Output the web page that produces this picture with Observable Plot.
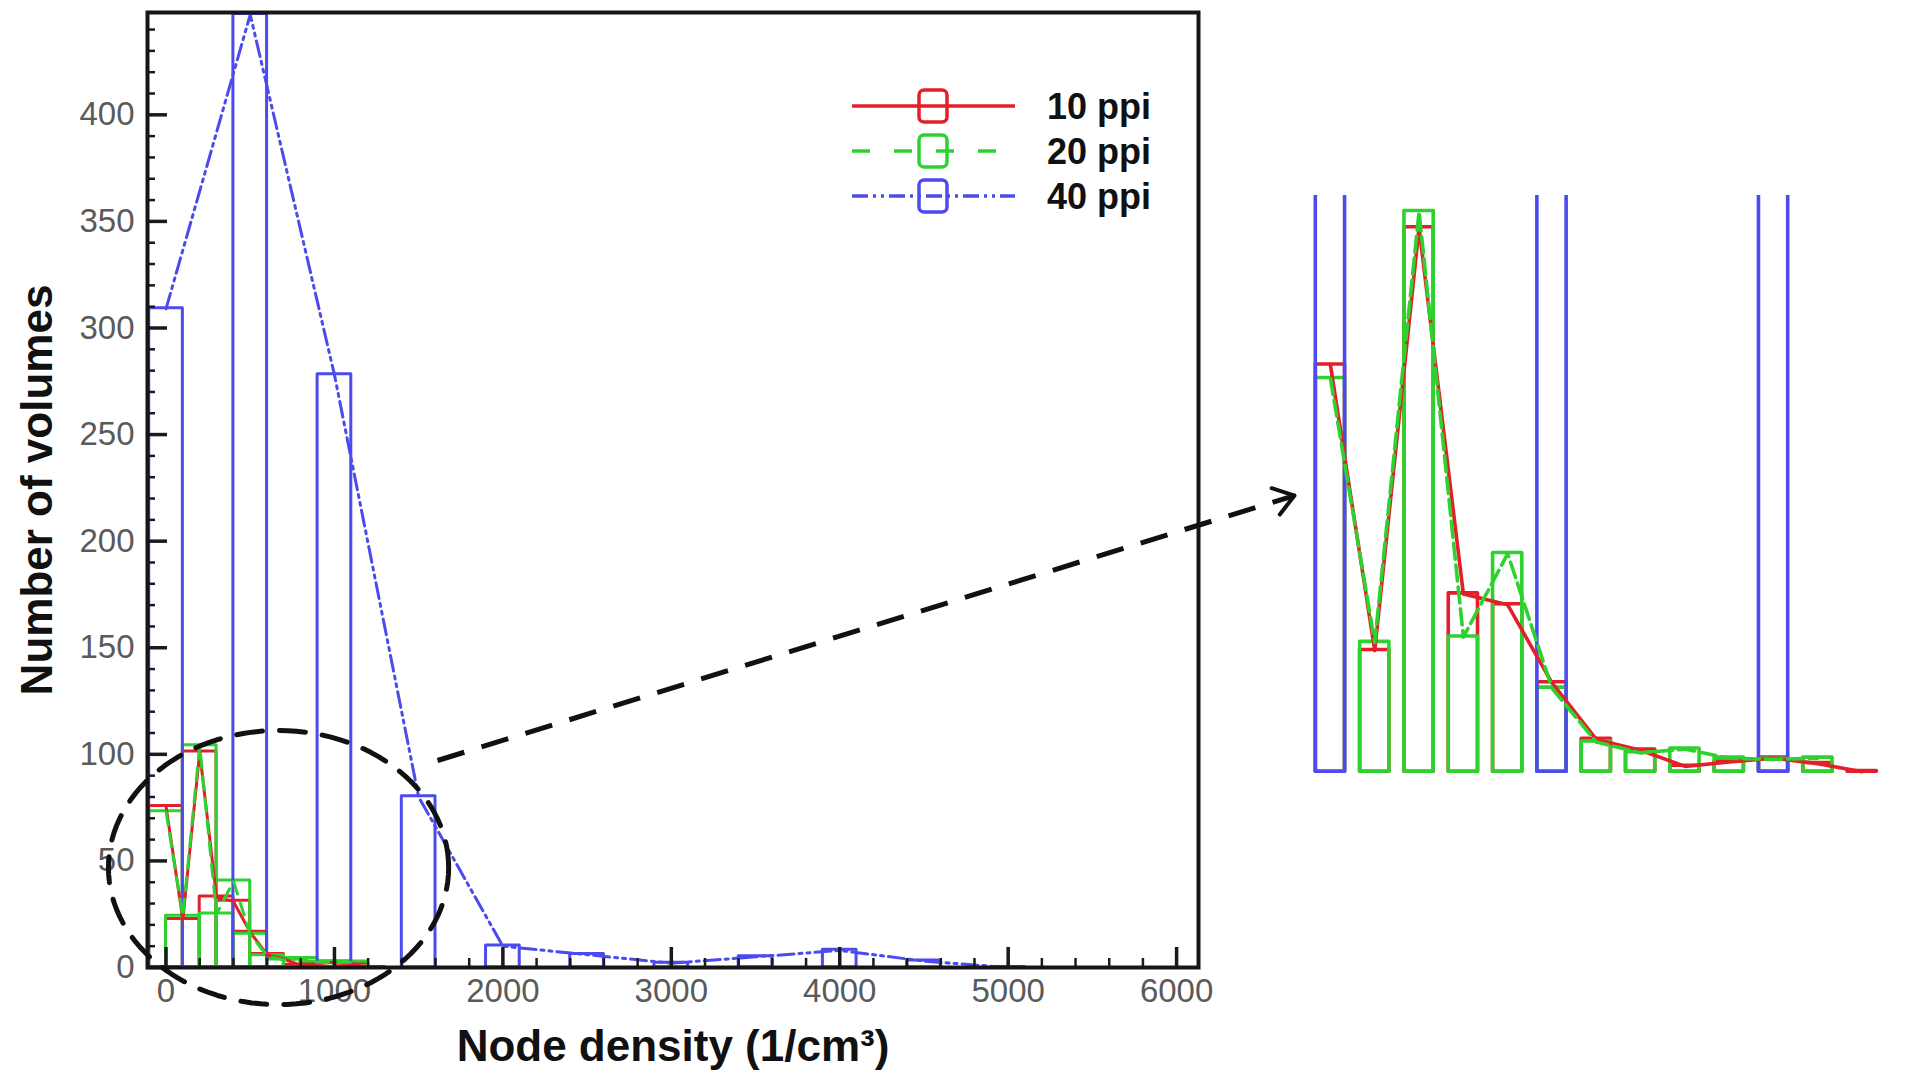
<!DOCTYPE html>
<html>
<head>
<meta charset="utf-8">
<script src="https://cdn.jsdelivr.net/npm/d3@7"></script>
<script src="https://cdn.jsdelivr.net/npm/@observablehq/plot@0.6"></script>
<style>
  html, body { margin: 0; padding: 0; background: #fff; overflow: hidden; }
  #wrap { position: relative; width: 1913px; height: 1077px; overflow: hidden; }
  #main { position: absolute; left: 0; top: 0; }
  #inset { position: absolute; left: 1310px; top: 195px; }
  #legend { position: absolute; left: 0; top: 0; pointer-events: none; }
</style>
</head>
<body>
<div id="wrap">
  <div id="main"></div>
  <div id="inset"></div>
  <svg id="legend" width="1913" height="260"></svg>
</div>
<script>
// ---------------- data ----------------
const seriesNames = ["10 ppi", "20 ppi", "40 ppi"];

const ppi10Density = [0, 100, 200, 300, 400, 500, 600, 700, 800, 900, 1000, 1100, 1200];
const ppi10Volumes = [75.5, 22.5, 101, 33, 31, 16.5, 6, 4, 1, 1.8, 2.5, 1.5, 0];

const ppi20Density = [0, 100, 200, 300, 400, 500, 600, 700, 800, 900, 1000, 1100];
const ppi20Volumes = [73, 24, 104, 25, 40.5, 15.5, 5.5, 3.5, 4.2, 2.5, 2.3, 2.5];

const ppi40Density = [0, 500, 1000, 1500, 2000, 2500, 3000, 3500, 4000, 4500, 5000];
const ppi40Volumes = [309, 447, 278, 80, 10, 6, 2, 5, 8, 3, 0];

const xTickLabels = [0, 1000, 2000, 3000, 4000, 5000, 6000];
const yTickLabels = [0, 50, 100, 150, 200, 250, 300, 350, 400];

const xTitle = "Node density (1/cm³)";
const yTitle = "Number of volumes";

// ---------------- styles ----------------
const colors = ["#e2202a", "#2ed22e", "#4b4bee"];
const dashes = [null, "13,9", "16,5,3,5,3,5"];
const insetDashes = [null, "16,6", "16,5,3,5,3,5"];

const toRows = (xs, ys) => xs.map((x, i) => ({x, y: ys[i]}));
const datasets = [
  toRows(ppi10Density, ppi10Volumes),
  toRows(ppi20Density, ppi20Volumes),
  toRows(ppi40Density, ppi40Volumes)
];

function seriesMarks(half, sw, dash) {
  const marks = [];
  datasets.forEach((d, i) => marks.push(Plot.rect(d, {
    x1: r => r.x - half, x2: r => r.x + half, y1: 0, y2: "y", insetTop: -0.6,
    fill: "none", stroke: colors[i], strokeWidth: sw, strokeLinejoin: "round", clip: true
  })));
  datasets.forEach((d, i) => marks.push(Plot.line(d, {
    x: "x", y: "y", stroke: colors[i], strokeWidth: sw,
    strokeDasharray: dash[i], strokeLinejoin: "round", clip: true
  })));
  return marks;
}

// ---------------- main chart ----------------
const W = 1913, H = 1077, mL = 147, mR = 715, mT = 12, mB = 110;
const frameW = W - mL - mR, frameH = H - mT - mB;
const xDomain = [-110, 6130], yDomain = [0, 448];
const xMinor = d3.range(200, 6001, 200).filter(v => v % 1000 !== 0);
const yMinor = d3.range(10, 448, 10).filter(v => v % 50 !== 0);

// annotation: dashed ellipse around the low-density region and arrow to the zoom
const ellipse = {cx: 668, cy: 46.9, rx: 1010, ry: 64.3};
const ellipsePts = d3.range(0, 121).map(k => {
  const t = k / 120 * 2 * Math.PI;
  return {x: ellipse.cx + ellipse.rx * Math.cos(t), y: ellipse.cy + ellipse.ry * Math.sin(t)};
});
const arrow = {x1: 1612, y1: 97.1, x2: 6700, y2: 221.4};
const sx = Plot.scale({x: {domain: xDomain, range: [mL, W - mR]}});
const sy = Plot.scale({y: {domain: yDomain, range: [H - mB, mT]}});
const arrowPx = Math.hypot(sx.apply(arrow.x2) - sx.apply(arrow.x1), sy.apply(arrow.y2) - sy.apply(arrow.y1));

const main = Plot.plot({
  width: W, height: H,
  marginLeft: mL, marginRight: mR, marginTop: mT, marginBottom: mB,
  x: {domain: xDomain},
  y: {domain: yDomain},
  style: {fontFamily: "'Liberation Sans', Arial, sans-serif", fontSize: "33px", background: "transparent", overflow: "visible"},
  marks: [
    ...seriesMarks(100, 3, dashes),
    Plot.ruleX(xMinor, {insetTop: frameH - 9, stroke: "#1a1a1a", strokeWidth: 2.5}),
    Plot.ruleX(xTickLabels, {insetTop: frameH - 20, stroke: "#1a1a1a", strokeWidth: 3.5}),
    Plot.ruleY(yMinor, {insetRight: frameW - 8, stroke: "#1a1a1a", strokeWidth: 2.5}),
    Plot.ruleY(yTickLabels, {insetRight: frameW - 20, stroke: "#1a1a1a", strokeWidth: 3.5}),
    Plot.frame({stroke: "#161616", strokeWidth: 4}),
    Plot.axisX({ticks: xTickLabels, tickSize: 0, tickPadding: 11, tickFormat: d => String(d),
      fill: "#5a5a5a", label: null, fontSize: 33}),
    Plot.axisY({ticks: yTickLabels, tickSize: 0, tickPadding: 13, tickFormat: d => String(d),
      fill: "#5a5a5a", label: null, fontSize: 33}),
    Plot.text([yTitle], {frameAnchor: "left", textAnchor: "middle", lineAnchor: "middle",
      rotate: -90, dx: -110, fontSize: 44, fontWeight: "bold", fill: "#111"}),
    Plot.text([xTitle], {frameAnchor: "bottom", textAnchor: "middle", lineAnchor: "middle",
      dy: 79, fontSize: 44, fontWeight: "bold", fill: "#111"}),
    Plot.line(ellipsePts, {x: "x", y: "y", stroke: "#111", strokeWidth: 5,
      strokeDasharray: "26,17", curve: "linear-closed"}),
    Plot.link([arrow], {x1: "x1", y1: "y1", x2: "x2", y2: "y2", stroke: "#111",
      strokeWidth: 5, strokeDasharray: "28,18"}),
    Plot.arrow([arrow], {x1: "x1", y1: "y1", x2: "x2", y2: "y2", stroke: "#111",
      strokeWidth: 4, headLength: 9, headAngle: 70, insetStart: arrowPx - 3})
  ]
});
document.getElementById("main").appendChild(main);

// ---------------- magnified inset ----------------
const inset = Plot.plot({
  width: 596, height: 587,
  marginLeft: 0, marginRight: 0, marginTop: 0, marginBottom: 0,
  x: {domain: [-45, 1300], axis: null},
  y: {domain: [-2, 107], axis: null},
  style: {background: "transparent", overflow: "visible"},
  marks: seriesMarks(33, 3.6, insetDashes)
});
document.getElementById("inset").appendChild(inset);

// ---------------- legend ----------------
const lg = d3.select("#legend");
seriesNames.forEach((name, i) => {
  const y = 106 + 45 * i;
  lg.append("line").attr("x1", 852).attr("x2", 1015).attr("y1", y).attr("y2", y)
    .attr("stroke", colors[i]).attr("stroke-width", 3.5)
    .attr("stroke-dasharray", i === 1 ? "18,24" : (i === 2 ? "16,5,3,5,3,5" : null));
  lg.append("rect").attr("x", 919).attr("y", y - 16).attr("width", 28).attr("height", 32)
    .attr("rx", 5).attr("fill", "none").attr("stroke", colors[i]).attr("stroke-width", 3.5);
  lg.append("text").attr("x", 1047).attr("y", y).attr("dy", "0.36em")
    .attr("font-family", "'Liberation Sans', Arial, sans-serif").attr("font-weight", "bold")
    .attr("font-size", 36).attr("fill", "#111").text(name);
});
</script>
</body>
</html>
